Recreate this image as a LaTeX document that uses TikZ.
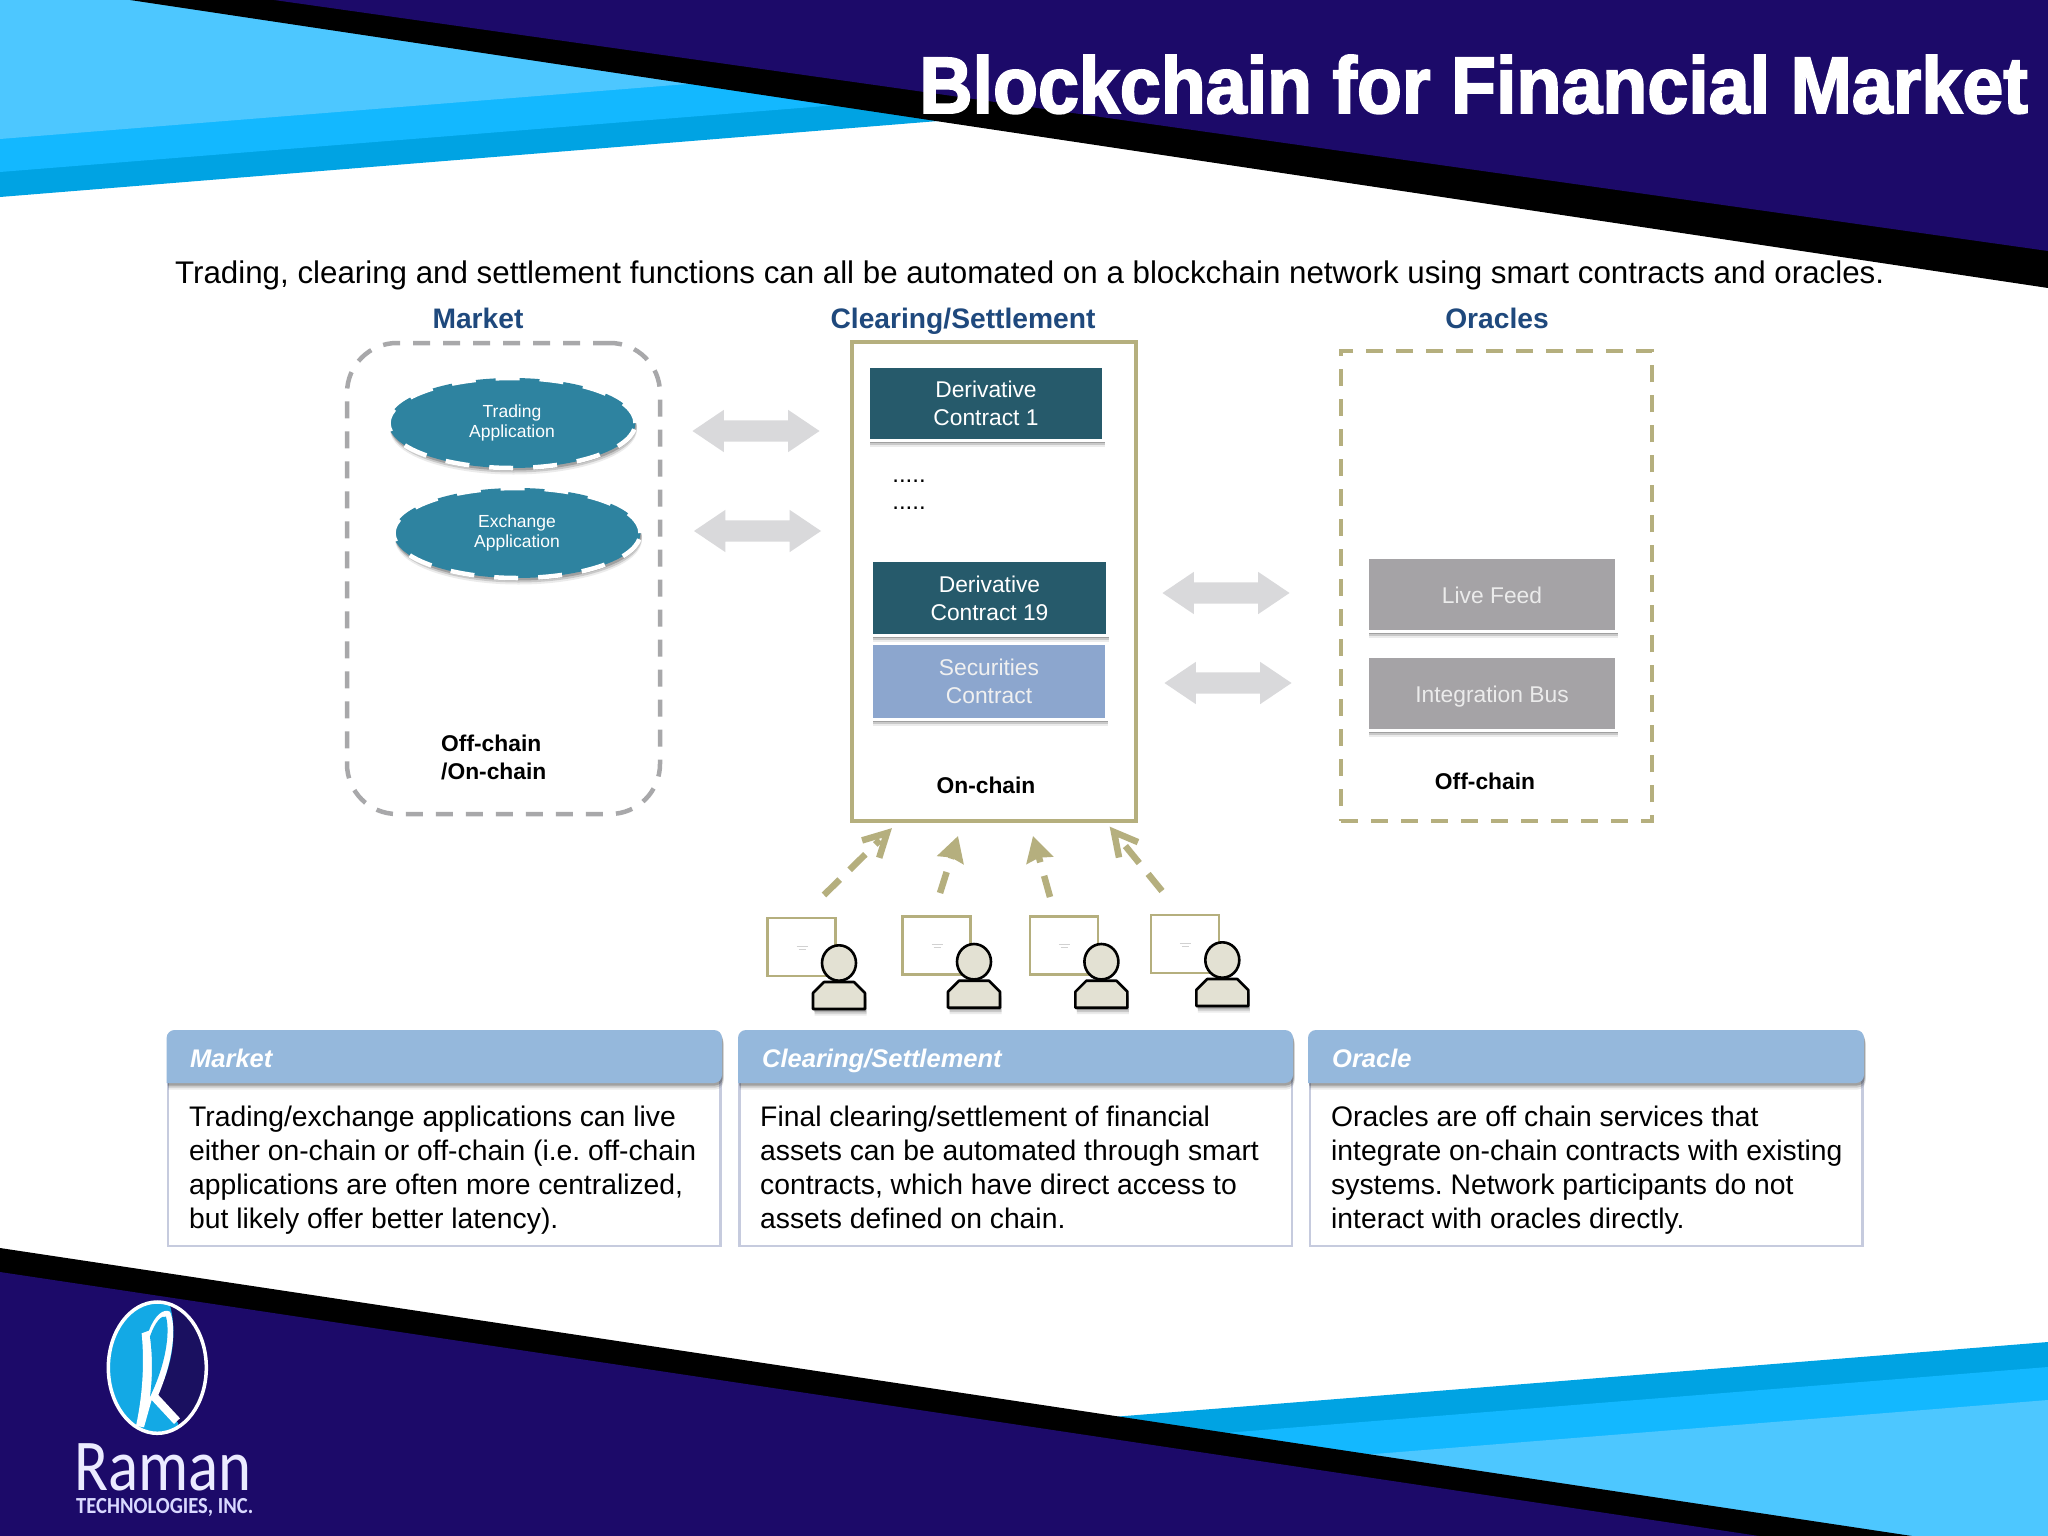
\documentclass[tikz,border=0pt]{standalone}
\usepackage{fontspec}
\usepackage{graphicx}
\setmainfont{Liberation Sans}
\newfontfamily\titlefont[FakeBold=2.4]{Liberation Sans Bold}
\newfontfamily\logofont{Carlito}
\usetikzlibrary{shapes.geometric,shapes.arrows,arrows.meta,shadows,calc}
\frenchspacing
\definecolor{navy}{HTML}{1C0A69}
\definecolor{skyA}{HTML}{4DC7FF}
\definecolor{skyB}{HTML}{13B8FF}
\definecolor{skyC}{HTML}{00A3E3}
\definecolor{olive}{HTML}{B5AF7E}
\definecolor{dashgray}{HTML}{A8A8AA}
\definecolor{headblue}{HTML}{1F497D}
\definecolor{teal}{HTML}{2E83A0}
\definecolor{deriv}{HTML}{265A6B}
\definecolor{secur}{HTML}{8CA6CE}
\definecolor{feed}{HTML}{A5A3A6}
\definecolor{arrowgray}{HTML}{D9D9DB}
\definecolor{tabhead}{HTML}{95B8DC}
\definecolor{tabline}{HTML}{C6CBDE}
\definecolor{userfill}{HTML}{E3E1D3}
\definecolor{logoblue}{HTML}{13A9E5}
\definecolor{logodark}{HTML}{1A1060}
\newcommand{\fs}[2]{\fontsize{#1}{#2}\selectfont}
\tikzset{
  softshadow/.style={drop shadow={shadow xshift=1.5pt,shadow yshift=-6.5pt,opacity=.08,fill=black},
                     drop shadow={shadow xshift=1.5pt,shadow yshift=-4.5pt,opacity=.14,fill=black},
                     drop shadow={shadow xshift=1pt,shadow yshift=-2.5pt,opacity=.2,fill=black}},
  appoval/.style={ellipse,inner sep=0pt,minimum width=247pt,minimum height=90pt,fill=teal,draw=white,
    line width=4.5pt,dash pattern=on 24pt off 20pt,softshadow,text=white,align=center,font=\fs{17.5}{20.5}},
  boxnode/.style={rectangle,inner sep=0pt,draw=white,line width=3pt,softshadow,text=white,align=center,font=\fs{22.8}{28}},
  feedbox/.style={boxnode,fill=feed,text=black!8,minimum width=249pt,minimum height=74pt,text height=22pt,text depth=5pt},
  twoway/.style={double arrow,fill=arrowgray,inner xsep=0pt,inner ysep=10.5pt,minimum height=127pt,
    double arrow head extend=10.5pt,double arrow tip angle=68},
  colhead/.style={anchor=base,font=\fs{28.2}{32}\bfseries,text=headblue},
  chainlabel/.style={font=\fs{22.8}{28}\bfseries,align=left,inner sep=0pt},
  dotsnode/.style={anchor=base,font=\fs{24}{28},inner sep=0pt},
  boarddash/.style={draw=olive,line width=4.3pt,dash pattern=on 17pt off 13pt},
  userlink/.style={draw=olive,line width=6.5pt,dash pattern=on 22pt off 14pt},
  userhead/.style={draw=olive,line width=6.5pt,line join=miter},
  tabbody/.style={anchor=north west,inner sep=0pt,align=left,font=\fs{28.3}{34}},
  tabtitle/.style={anchor=base west,inner sep=0pt,text=white,font=\fs{25.5}{30}\bfseries\itshape},
  tabframe/.style={draw=tabline,line width=2.5pt,fill=white},
  user/.pic={
    \draw[olive,line width=2.6pt,fill=white] (0,0) rectangle (68,58);
    \draw[black!18,line width=.7pt] (29,28) -- (40,28) (31,31) -- (38,31);
    \draw[black,line width=2.6pt,fill=userfill,line join=round,softshadow]
      (56.5,64) -- (86.5,64) -- (97.5,75) -- (97.5,91) -- (45.5,91) -- (45.5,75) -- cycle;
    \draw[black,line width=2.6pt,fill=userfill] (71.5,45) ellipse [x radius=17,y radius=17.7];
  }
}
\begin{document}
\begin{tikzpicture}[x=1pt,y=-1pt]
\useasboundingbox (0,0) rectangle (2048,1536);
\fill[white] (0,0) rectangle (2048,1536);
% top band
\fill[skyC] (0,0) -- (1000,0) -- (1000,116) -- (0,197) -- cycle;
\fill[skyB] (0,0) -- (1000,0) -- (1000,92) -- (0,172) -- cycle;
\fill[skyA] (0,0) -- (1000,0) -- (1000,59) -- (0,139) -- cycle;
\fill[black] (130,0) -- (2048,288) -- (2048,0) -- cycle;
\fill[navy] (274,0) -- (2048,251) -- (2048,0) -- cycle;
% bottom band
\fill[skyC] (1000,1426) -- (2048,1342) -- (2048,1536) -- (1000,1536) -- cycle;
\fill[skyB] (1000,1451) -- (2048,1367) -- (2048,1536) -- (1000,1536) -- cycle;
\fill[skyA] (1000,1484) -- (2048,1400) -- (2048,1536) -- (1000,1536) -- cycle;
\fill[black] (0,1248) -- (1912,1536) -- (0,1536) -- cycle;
\fill[navy] (0,1272) -- (1759,1536) -- (0,1536) -- cycle;
% title and intro
\node[anchor=base east,inner sep=0pt,text=white] (title) at (2028,113)
  {\scalebox{.92}[1]{\titlefont\fs{80}{90}Blockchain for Financial Market}};
\node[anchor=base west,inner sep=0pt,font=\fs{31.3}{36}] (intro) at (175,283)
  {Trading, clearing and settlement functions can all be automated on a blockchain network using smart contracts and oracles.};
\node[colhead] (hmarket) at (478,328) {Market};
\node[colhead] (hclear) at (963,328) {Clearing/Settlement};
\node[colhead] (horacle) at (1497,328) {Oracles};
% containers
\node[draw=dashgray,line width=4.5pt,dash pattern=on 17pt off 13pt,rounded corners=50pt,rectangle,inner sep=0pt,
  minimum width=313pt,minimum height=471pt] (marketbox) at (503.5,578.5) {};
\node[draw=olive,line width=4pt,rectangle,inner sep=0pt,minimum width=284pt,minimum height=479pt] (clearbox) at (994,581) {};
\node[boarddash,rectangle,inner sep=0pt,minimum width=311pt,minimum height=470pt] (oraclebox) at (1496.5,586) {};
% market apps
\node[appoval] (trading) at (512,423) {Trading\\Application};
\node[appoval] (exchange) at (517,533) {Exchange\\Application};
\node[chainlabel,anchor=west] (mlabel) at (441,757) {Off-chain\\/On-chain};
% contracts
\node[boxnode,fill=deriv,minimum width=235pt,minimum height=74pt] (dc1) at (986,403) {Derivative\\Contract 1};
\node[dotsnode] (dotsa) at (909,482) {.....};
\node[dotsnode] (dotsb) at (909,509) {.....};
\node[boxnode,fill=deriv,minimum width=236pt,minimum height=75pt] (dc19) at (989.5,598) {Derivative\\Contract 19};
\node[boxnode,fill=secur,text=black!6,minimum width=235pt,minimum height=76pt] (sec) at (989,681) {Securities\\Contract};
\node[chainlabel] (clabel) at (986,785) {On-chain};
% oracles
\node[feedbox] (live) at (1492,594.5) {Live Feed};
\node[feedbox] (bus) at (1492,693.5) {Integration Bus};
\node[chainlabel] (olabel) at (1485,781) {Off-chain};
% two-way arrows
\node[twoway] (ta) at (756,431) {};
\node[twoway] (tb) at (757.5,531) {};
\node[twoway] (tc) at (1226,593) {};
\node[twoway] (td) at (1228,683) {};
% users
\pic (ua) at (767.5,918) {user};
\pic (ub) at (902.5,916.7) {user};
\pic (uc) at (1029.9,916.7) {user};
\pic (ud) at (1150.8,915) {user};
\coordinate (sa) at (824,895); \coordinate (ea) at (887,833);
\coordinate (sb) at (940,893); \coordinate (eb) at (958,836);
\coordinate (sc) at (1050,897); \coordinate (ec) at (1033,836);
\coordinate (sd) at (1162,891); \coordinate (ed) at (1114,832);
\draw[userlink,shorten >=10pt] (sa) -- (ea);
\draw[userhead] ($(ea)!26pt!28:(sa)$) -- (ea) -- ($(ea)!26pt!-28:(sa)$);
\draw[userlink,-{Stealth[length=25pt,width=27pt,inset=2.5pt]}] (sb) -- (eb);
\draw[userlink,-{Stealth[length=25pt,width=27pt,inset=2.5pt]}] (sc) -- (ec);
\draw[userlink,shorten >=10pt] (sd) -- (ed);
\draw[userhead] ($(ed)!26pt!28:(sd)$) -- (ed) -- ($(ed)!26pt!-28:(sd)$);
% tables
\node[tabframe,rectangle,inner sep=0pt,minimum width=552.5pt,minimum height=170pt] (fa) at (444.3,1161) {};
\node[tabframe,rectangle,inner sep=0pt,minimum width=552.5pt,minimum height=170pt] (fb) at (1015.5,1161) {};
\node[tabframe,rectangle,inner sep=0pt,minimum width=552.5pt,minimum height=170pt] (fc) at (1586,1161) {};
\path[fill=tabhead,rounded corners=8pt,softshadow] (166.6,1083) -- (166.6,1030) -- (722,1030) -- (722,1083) [sharp corners] -- cycle;
\path[fill=tabhead,rounded corners=8pt,softshadow] (738,1083) -- (738,1030) -- (1293,1030) -- (1293,1083) [sharp corners] -- cycle;
\path[fill=tabhead,rounded corners=8pt,softshadow] (1308,1083) -- (1308,1030) -- (1864,1030) -- (1864,1083) [sharp corners] -- cycle;
\node[tabtitle] (ta1) at (190,1067) {Market};
\node[tabtitle] (ta2) at (762,1067) {Clearing/Settlement};
\node[tabtitle] (ta3) at (1332,1067) {Oracle};
\node[tabbody] (bd1) at (189,1106) {Trading/exchange applications can live\\either on-chain or off-chain (i.e. off-chain\\applications are often more centralized,\\but likely offer better latency).};
\node[tabbody] (bd2) at (760,1106) {Final clearing/settlement of financial\\assets can be automated through smart\\contracts, which have direct access to\\assets defined on chain.};
\node[tabbody] (bd3) at (1331,1106) {Oracles are off chain services that\\integrate on-chain contracts with existing\\systems. Network participants do not\\interact with oracles directly.};
% logo
\begin{scope}[shift={(0,1200)},x=.3333pt,y=-.3333pt]
  \begin{scope}
    \clip (472,503) ellipse [x radius=147,y radius=197];
    \fill[logodark] (300,290) rectangle (640,720);
    \fill[logoblue] (300,290) -- (505,300) .. controls (540,400) and (510,530) .. (462,592) -- (535,670) -- (520,720) -- (300,720) -- cycle;
  \end{scope}
  \draw[white,line width=3.5pt] (472,503) ellipse [x radius=147,y radius=197];
  \fill[white] (425,400) -- (447,392) .. controls (465,345) and (490,325) .. (510,335)
     .. controls (530,380) and (520,480) .. (475,585) -- (540,655) -- (522,672) -- (455,600) -- (432,682) -- (408,678)
     .. controls (425,600) and (435,500) .. (425,400) -- cycle;
  \fill[logoblue] (450,410) .. controls (465,365) and (485,345) .. (498,350)
     .. controls (512,400) and (495,500) .. (450,590) .. controls (458,530) and (458,470) .. (450,410) -- cycle;
\end{scope}
\node[anchor=base west,inner sep=0pt,text=white!92!blue] (raman) at (74,1490)
  {\scalebox{.86}[1]{\logofont\fs{73}{80}Raman}};
\node[anchor=base west,inner sep=0pt,text=white!85!blue] (tech) at (76,1513)
  {\scalebox{.895}[1]{\logofont\fs{23}{26}\bfseries TECHNOLOGIES, INC.}};
\end{tikzpicture}
\end{document}
